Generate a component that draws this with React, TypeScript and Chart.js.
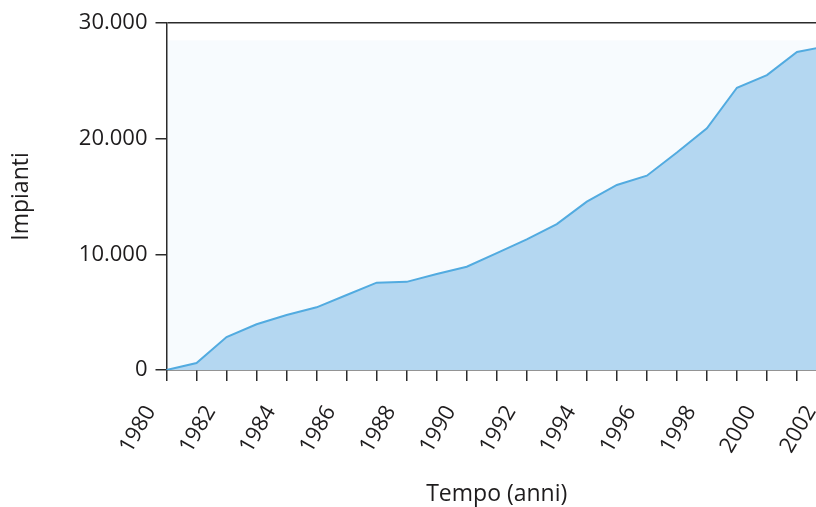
import React, { useEffect, useRef } from "react";
import { Chart, registerables } from "chart.js";

Chart.register(...registerables);

const years = [
  "1980", "1981", "1982", "1983", "1984", "1985", "1986", "1987",
  "1988", "1989", "1990", "1991", "1992", "1993", "1994", "1995",
  "1996", "1997", "1998", "1999", "2000", "2001", "2002",
];
const impianti = [
  0, 600, 2850, 3950, 4750, 5420, 6480, 7550,
  7620, 8300, 8930, 10100, 11300, 12620, 14550, 16000,
  16800, 18800, 20900, 24400, 25500, 27500, 28000,
];
const yTicks = [0, 10000, 20000, 30000];
const yMax = 30000;
const panelTop = 28500;

const FONT = "'Open Sans', 'Noto Sans', sans-serif";
const AXIS = "#2b2b2b";
const TEXT = "#1e1c1d";

const fmt = (v: number) => String(v).replace(/\B(?=(\d{3})+(?!\d))/g, ".");

const panelPlugin = {
  id: "panel",
  beforeDraw(chart: any) {
    const { ctx, chartArea, scales } = chart;
    const yTop = scales.y.getPixelForValue(panelTop);
    ctx.save();
    ctx.fillStyle = "#f7fbfe";
    ctx.fillRect(chartArea.left, yTop, chartArea.right - chartArea.left, chartArea.bottom - yTop);
    ctx.restore();
  },
};

export default function App() {
  const ref = useRef<HTMLCanvasElement | null>(null);

  useEffect(() => {
    if (!ref.current) return;
    const chart = new Chart(ref.current, {
      type: "line",
      data: {
        labels: years,
        datasets: [
          {
            data: impianti,
            borderColor: "#52abe0",
            backgroundColor: "#b4d7f1",
            borderWidth: 2,
            fill: "origin",
            tension: 0,
            pointRadius: 0,
          },
        ],
      },
      options: {
        animation: false,
        responsive: true,
        maintainAspectRatio: false,
        layout: { padding: { left: 0, right: 30, top: 23, bottom: 0 } },
        plugins: {
          legend: { display: false },
          tooltip: { enabled: false },
        },
        scales: {
          x: {
            type: "category",
            offset: false,
            afterFit: (s: any) => {
              s.height = 137;
              s.paddingLeft = 0;
              s.paddingRight = 0;
            },
            grid: {
              drawOnChartArea: false,
              tickLength: 11,
              tickColor: AXIS,
              lineWidth: 1.5,
            },
            border: { color: AXIS, width: 1.5 },
            ticks: {
              autoSkip: false,
              minRotation: 60,
              maxRotation: 60,
              padding: 20,
              labelOffset: -16,
              color: TEXT,
              font: { family: FONT, size: 22 },
              callback: (_v: any, i: number) => (i % 2 === 0 ? years[i] : ""),
            },
            title: {
              display: true,
              text: "Tempo (anni)",
              color: TEXT,
              font: { family: FONT, size: 23, lineHeight: 1.05 },
              padding: { top: 0, bottom: 0 },
            },
          },
          y: {
            min: 0,
            max: yMax,
            afterFit: (s: any) => {
              s.width = 166.5;
            },
            afterBuildTicks: (s: any) => {
              s.ticks = yTicks.map((v) => ({ value: v }));
            },
            grid: {
              color: (c: any) => (c.tick && c.tick.value === yMax ? AXIS : "rgba(0,0,0,0)"),
              tickColor: AXIS,
              tickLength: 11,
              lineWidth: 1.5,
            },
            border: { color: AXIS, width: 1.5 },
            ticks: {
              padding: 8,
              color: TEXT,
              font: { family: FONT, size: 22 },
              callback: (v: any) => fmt(Number(v)),
            },
            title: {
              display: true,
              text: "Impianti",
              color: TEXT,
              font: { family: FONT, size: 23, lineHeight: 1.2 },
              padding: { top: 8, bottom: 0 },
            },
          },
        },
      },
      plugins: [panelPlugin],
    });
    return () => chart.destroy();
  }, []);

  return (
    <div
      style={{
        position: "fixed",
        left: 0,
        top: 0,
        width: 816,
        height: 507,
        overflow: "hidden",
        background: "#ffffff",
      }}
    >
      <div style={{ position: "relative", width: 857, height: 507 }}>
        <canvas ref={ref} />
      </div>
    </div>
  );
}
